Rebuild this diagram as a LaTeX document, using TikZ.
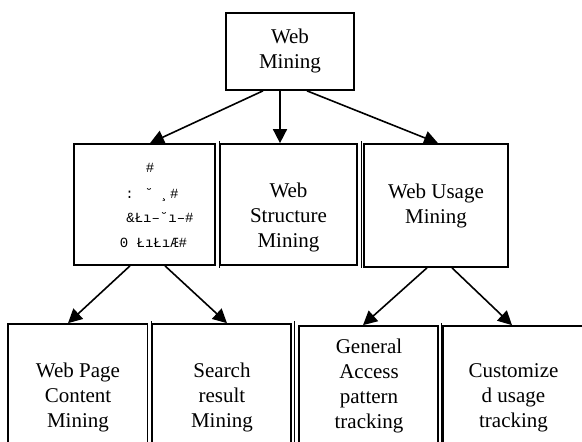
\documentclass[tikz,border=0pt]{standalone}
\usepackage{fontspec}
\setmainfont{Liberation Serif}
\newfontfamily\garbfont{Liberation Mono}
\usetikzlibrary{arrows.meta}
\tikzset{
  box/.style={draw=black, line width=1.7pt, fill=none, inner sep=0pt, minimum width=#1},
  lbl/.style={align=center, anchor=base, inner sep=0pt, font=\fontsize{21}{25}\selectfont},
  glbl/.style={anchor=base, inner sep=0pt, font=\garbfont\fontsize{14}{25}\selectfont},
  arr/.style={line width=1.6pt, -{Triangle[length=14pt,width=14pt]}},
  thin/.style={line width=0.6pt}
}
\begin{document}
\begin{tikzpicture}[x=1pt,y=-1pt]
\useasboundingbox (0,0) rectangle (582,442);
\clip (0,0) rectangle (582,442);
% boxes
\node[box=128pt, minimum height=77pt] (wm) at (290,51.5) {};
\node[box=141pt, minimum height=121pt] (a) at (144.5,204.5) {};
\node[box=137pt, minimum height=121pt] (b) at (288.5,204.5) {};
\node[box=144pt, minimum height=123pt] (c) at (436,205.5) {};
\node[box=139.5pt, minimum height=126pt] (d) at (77.75,387) {};
\node[box=138.5pt, minimum height=126pt] (e) at (221.75,387) {};
\node[box=139pt, minimum height=124pt] (f) at (368.5,388) {};
\node[box=147pt, minimum height=124pt] (g) at (516.5,388) {};
% thin double edges
\draw[thin] ([xshift=3pt,yshift=2pt]a.north east) -- ([xshift=3pt,yshift=-2pt]a.south east);
\draw[thin] ([xshift=3pt,yshift=2pt]b.north east) -- ([xshift=3pt,yshift=-2pt]b.south east);
\draw[thin] ([xshift=2.5pt,yshift=2pt]d.north east) -- ([xshift=2.5pt]d.south east);
\draw[thin] ([xshift=2.5pt,yshift=2pt]e.north east) -- ([xshift=2.5pt]e.south east);
\draw[thin] ([xshift=2.5pt,yshift=2pt]f.north east) -- ([xshift=2.5pt]f.south east);
% texts (anchor = baseline of last line)
\node[lbl] (wmt) at (290,68) {Web\\Mining};
\node[glbl] (at1) at (150,172) {\#};
\node[glbl] (at2) at (152,198) {: ˘ ¸\#};
\node[glbl] (at3) at (160,222) {\&Łı–˘ı–\#};
\node[glbl] (at4) at (153.5,247) {0 ŁıŁıÆ\#};
\node[lbl] (bt) at (288.5,247) {Web\\Structure\\Mining};
\node[lbl] (ct) at (436,223) {Web Usage\\Mining};
\node[lbl] (dt) at (78,427) {Web Page\\Content\\Mining};
\node[lbl] (et) at (222,427) {Search\\result\\Mining};
\node[lbl] (ft) at (369,428) {General\\Access\\pattern\\tracking};
\node[lbl] (gt) at (513.5,427) {Customize\\d usage\\tracking};
% connectors
\draw[arr] ([xshift=-27pt]wm.south) -- ([xshift=5.5pt]a.north);
\draw[arr] ([xshift=-10pt]wm.south) -- ([xshift=-8.5pt]b.north);
\draw[arr] ([xshift=17pt]wm.south) -- ([xshift=2pt]c.north);
\draw[arr] ([xshift=-14.5pt]a.south) -- ([xshift=-9.75pt]d.north);
\draw[arr] ([xshift=20.5pt]a.south) -- ([xshift=5.25pt]e.north);
\draw[arr] ([xshift=-9pt]c.south) -- ([xshift=-5.5pt]f.north);
\draw[arr] ([xshift=16pt]c.south) -- ([xshift=-4.5pt]g.north);
\end{tikzpicture}
\end{document}
